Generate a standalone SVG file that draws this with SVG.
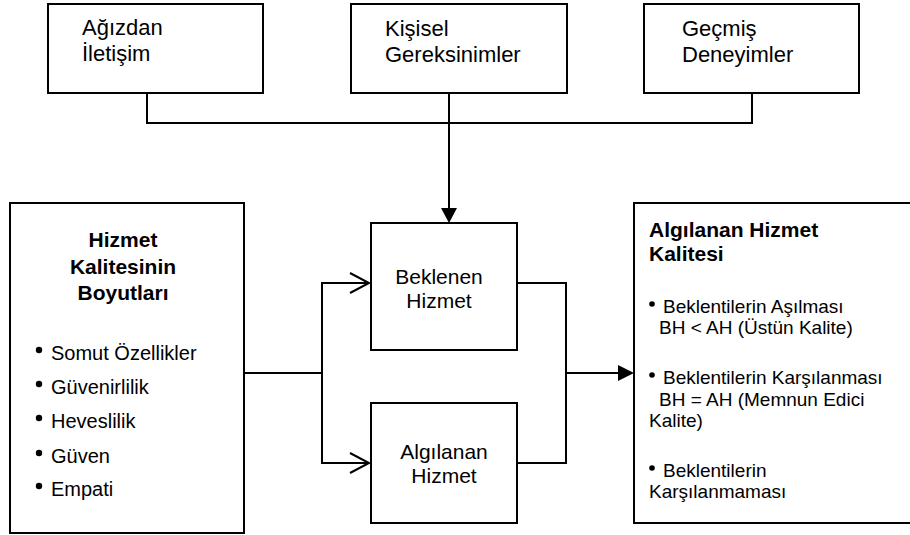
<svg xmlns="http://www.w3.org/2000/svg" width="910" height="535" viewBox="0 0 910 535">
<defs>
<style>
.box{fill:#fff;stroke:#000;stroke-width:2}
.ln{fill:none;stroke:#000;stroke-width:2}
.t{font-family:"Liberation Sans",Arial,sans-serif;fill:#000}
.top{font-size:22px}
.mid{font-size:21px}
.b{font-weight:bold;font-size:21px}
.li{font-size:20px}
.ri{font-size:19px}
</style>
</defs>
<rect width="910" height="535" fill="#fff"/>
<g id="connectors">
<polyline class="ln" points="147,93 147,123 752,123 752,93"/>
<line class="ln" x1="449" y1="93" x2="449" y2="210"/>
<polygon points="441,208 457,208 449,223" fill="#000"/>
<polyline class="ln" points="244,373 322,373"/>
<polyline class="ln" points="369,283 322,283 322,463 369,463"/>
<polyline class="ln" points="350,273 369,283 350,293"/>
<polyline class="ln" points="350,453 369,463 350,473"/>
<polyline class="ln" points="517,283 566,283 566,463 517,463"/>
<line class="ln" x1="566" y1="373" x2="620" y2="373"/>
<polygon points="618,365 634,373 618,381" fill="#000"/>
</g>
<g id="agizdan">
<rect class="box" x="48" y="4" width="215" height="89"/>
<text class="t top" x="82" y="35">Ağızdan</text>
<text class="t top" x="82" y="61">İletişim</text>
</g>
<g id="kisisel">
<rect class="box" x="351" y="4" width="216" height="89"/>
<text class="t top" x="385" y="36">Kişisel</text>
<text class="t top" x="385" y="62">Gereksinimler</text>
</g>
<g id="gecmis">
<rect class="box" x="644" y="4" width="215" height="89"/>
<text class="t top" x="682" y="36">Geçmiş</text>
<text class="t top" x="682" y="62">Deneyimler</text>
</g>
<g id="boyutlar">
<rect class="box" x="10" y="203" width="234" height="330"/>
<text class="t b" x="123" y="247" text-anchor="middle" font-size="22">Hizmet</text>
<text class="t b" x="123" y="274" text-anchor="middle">Kalitesinin</text>
<text class="t b" x="123" y="300" text-anchor="middle">Boyutları</text>
<circle cx="39" cy="350" r="3.2"/>
<text class="t li" x="51" y="360">Somut Özellikler</text>
<circle cx="39" cy="384" r="3.2"/>
<text class="t li" x="51" y="394">Güvenirlilik</text>
<circle cx="39" cy="418" r="3.2"/>
<text class="t li" x="51" y="428">Heveslilik</text>
<circle cx="39" cy="453" r="3.2"/>
<text class="t li" x="51" y="463">Güven</text>
<circle cx="39" cy="486" r="3.2"/>
<text class="t li" x="51" y="496">Empati</text>
</g>
<g id="beklenen">
<rect class="box" x="371" y="223" width="146" height="127"/>
<text class="t mid" x="439" y="284" text-anchor="middle">Beklenen</text>
<text class="t mid" x="439" y="308" text-anchor="middle">Hizmet</text>
</g>
<g id="algilanan">
<rect class="box" x="371" y="403" width="146" height="120"/>
<text class="t mid" x="444" y="459" text-anchor="middle">Algılanan</text>
<text class="t mid" x="444" y="483" text-anchor="middle">Hizmet</text>
</g>
<g id="kalite">
<rect class="box" x="634" y="203" width="290" height="320"/>
<text class="t b" x="649" y="237">Algılanan Hizmet</text>
<text class="t b" x="649" y="261">Kalitesi</text>
<circle cx="652" cy="304" r="2.8"/>
<text class="t ri" x="663" y="313">Beklentilerin Aşılması</text>
<text class="t ri" x="659" y="334">BH &lt; AH (Üstün Kalite)</text>
<circle cx="652" cy="375" r="2.8"/>
<text class="t ri" x="663" y="384">Beklentilerin Karşılanması</text>
<text class="t ri" x="659" y="406">BH = AH (Memnun Edici</text>
<text class="t ri" x="649" y="427">Kalite)</text>
<circle cx="652" cy="468" r="2.8"/>
<text class="t ri" x="663" y="477">Beklentilerin</text>
<text class="t ri" x="649" y="498">Karşılanmaması</text>
</g>
</svg>
